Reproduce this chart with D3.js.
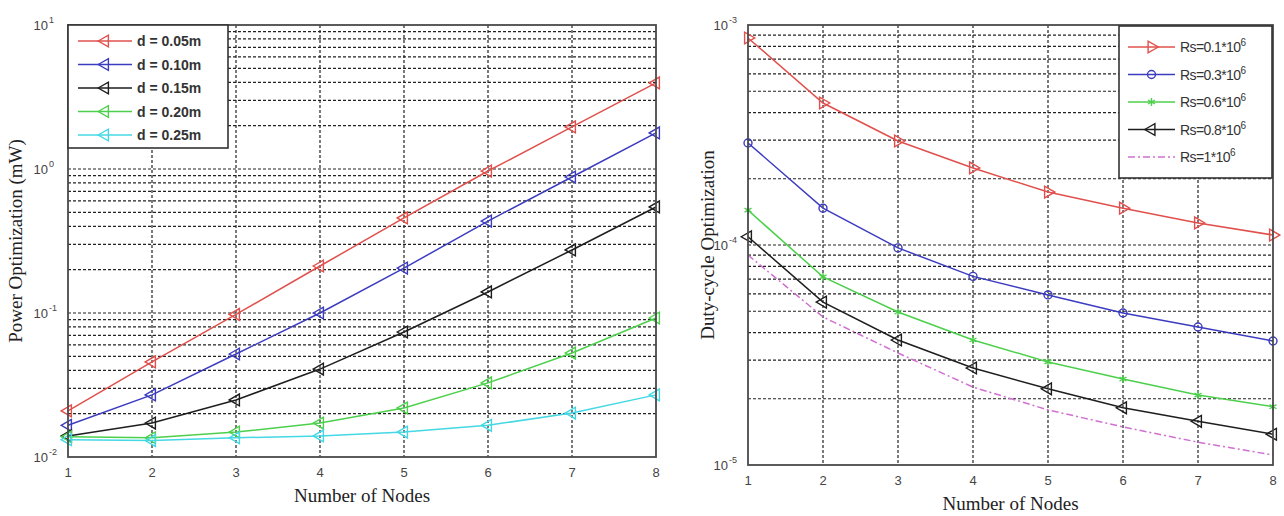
<!DOCTYPE html>
<html>
<head>
<meta charset="utf-8">
<script src="https://cdn.jsdelivr.net/npm/d3@7/dist/d3.min.js"></script>
<style>
  body { margin: 0; background: #fff; }
  svg { display: block; }
  .tick-label { font-family: "Liberation Sans", Arial, sans-serif; font-size: 13px; fill: #444; }
  .axis-title { font-family: "Liberation Serif", "Times New Roman", serif; font-size: 19px; fill: #222; }
  .legend-text { font-family: "Liberation Sans", Arial, sans-serif; font-size: 14px; fill: #333; }
</style>
</head>
<body>
<svg id="chart" width="1284" height="516"></svg>
<script>
// ---- data ----
const nodes = [1, 2, 3, 4, 5, 6, 7, 8];

// left panel: power optimization (mW) per sensor spacing d
const powerLabels = ['d = 0.05m', 'd = 0.10m', 'd = 0.15m', 'd = 0.20m', 'd = 0.25m'];
const powerD005 = [0.0209, 0.0457, 0.0977, 0.212, 0.457, 0.968, 1.96, 3.96];
const powerD010 = [0.0166, 0.0270, 0.0519, 0.100, 0.205, 0.435, 0.88, 1.78];
const powerD015 = [0.0140, 0.0172, 0.0249, 0.0408, 0.0738, 0.140, 0.274, 0.545];
const powerD020 = [0.0138, 0.0136, 0.0149, 0.0172, 0.0219, 0.0327, 0.0527, 0.0923];
const powerD025 = [0.0132, 0.0130, 0.0136, 0.0140, 0.0149, 0.0166, 0.0202, 0.0270];

// right panel: duty-cycle optimization per Rs
const dutyLabels = [['Rs=0.1*10', '6'], ['Rs=0.3*10', '6'], ['Rs=0.6*10', '6'], ['Rs=0.8*10', '6'], ['Rs=1*10', '6']];
const dutyRs01 = [8.73e-4, 4.42e-4, 2.97e-4, 2.24e-4, 1.74e-4, 1.47e-4, 1.26e-4, 1.11e-4];
const dutyRs03 = [2.91e-4, 1.47e-4, 9.7e-5, 7.2e-5, 5.93e-5, 4.91e-5, 4.24e-5, 3.66e-5];
const dutyRs06 = [1.44e-4, 7.16e-5, 4.96e-5, 3.7e-5, 2.94e-5, 2.46e-5, 2.08e-5, 1.84e-5];
const dutyRs08 = [1.09e-4, 5.5e-5, 3.7e-5, 2.76e-5, 2.22e-5, 1.82e-5, 1.58e-5, 1.38e-5];
const dutyRs10 = [9.0e-5, 4.71e-5, 3.23e-5, 2.26e-5, 1.78e-5, 1.49e-5, 1.27e-5, 1.11e-5];

const leftExps = [1, 0, -1, -2];
const rightExps = [-3, -4, -5];

// ---- styles ----
const svg = d3.select('#chart');
const triLeft = d3.symbol().type(d3.symbolTriangle).size(60);
const circ = d3.symbol().type(d3.symbolCircle).size(50);
const star = d3.symbol().type(d3.symbolAsterisk).size(45);

const panels = [
  {
    x0: 68, x1: 656, y0: 25, y1: 457, domain: [1e-2, 1e1], exps: leftExps,
    yTitle: 'Power Optimization (mW)', yTitleX: 22,
    series: [
      { values: powerD005, color: '#e0504c', marker: 'tl' },
      { values: powerD010, color: '#3c3cc0', marker: 'tl' },
      { values: powerD015, color: '#1e1e1e', marker: 'tl' },
      { values: powerD020, color: '#4cd04c', marker: 'tl' },
      { values: powerD025, color: '#44d8e4', marker: 'tl' }
    ],
    labels: powerLabels.map(l => [l, null]),
    legend: { x: 68, y: 25, w: 160, h: 123, first: 41, step: 23.5, lx0: 78, lx1: 132, tx: 137, bold: true }
  },
  {
    x0: 748, x1: 1273, y0: 25, y1: 465, domain: [1e-5, 1e-3], exps: rightExps,
    yTitle: 'Duty-cycle Optimization', yTitleX: 714,
    series: [
      { values: dutyRs01, color: '#e0504c', marker: 'tr' },
      { values: dutyRs03, color: '#3c3cc0', marker: 'o' },
      { values: dutyRs06, color: '#4cd04c', marker: '*' },
      { values: dutyRs08, color: '#1e1e1e', marker: 'tl' },
      { values: dutyRs10, color: '#d070d0', marker: null, dash: '7,3,2,3' }
    ],
    labels: dutyLabels,
    legend: { x: 1119, y: 26, w: 153, h: 152, first: 47, step: 27.5, lx0: 1128, lx1: 1175, tx: 1180, bold: false }
  }
];

function drawMarker(g, m, x, y, color) {
  if (!m) return;
  let p;
  if (m === 'tl') p = g.append('path').attr('d', triLeft()).attr('transform', `translate(${x},${y}) rotate(-90)`);
  else if (m === 'tr') p = g.append('path').attr('d', triLeft()).attr('transform', `translate(${x},${y}) rotate(90)`);
  else if (m === 'o') p = g.append('path').attr('d', circ()).attr('transform', `translate(${x},${y})`);
  else p = g.append('path').attr('d', star()).attr('transform', `translate(${x},${y})`);
  p.attr('fill', 'none').attr('stroke', color).attr('stroke-width', 1.4);
}

panels.forEach(pn => {
  const x = d3.scaleLinear().domain([1, 8]).range([pn.x0, pn.x1]);
  const y = d3.scaleLog().domain(pn.domain).range([pn.y1, pn.y0]);
  const g = svg.append('g');

  // grid
  const gridY = y.ticks().filter(v => v > pn.domain[0] * 1.0001 && v < pn.domain[1] * 0.9999);
  g.selectAll('.hg').data(gridY).enter().append('line')
    .attr('x1', pn.x0).attr('x2', pn.x1)
    .attr('y1', d => y(d)).attr('y2', d => y(d))
    .attr('stroke', '#222').attr('stroke-width', 1.2).attr('stroke-dasharray', '3,2');
  g.selectAll('.vg').data(nodes.slice(1, -1)).enter().append('line')
    .attr('x1', d => x(d)).attr('x2', d => x(d))
    .attr('y1', pn.y0).attr('y2', pn.y1)
    .attr('stroke', '#222').attr('stroke-width', 1.2).attr('stroke-dasharray', '3,2');

  // series
  pn.series.forEach(s => {
    const line = d3.line().x((d, i) => x(nodes[i])).y(d => y(d));
    g.append('path').datum(s.values).attr('d', line)
      .attr('fill', 'none').attr('stroke', s.color).attr('stroke-width', 1.5)
      .attr('stroke-dasharray', s.dash || null);
    s.values.forEach((v, i) => drawMarker(g, s.marker, x(nodes[i]), y(v), s.color));
  });

  // frame
  g.append('rect').attr('x', pn.x0).attr('y', pn.y0)
    .attr('width', pn.x1 - pn.x0).attr('height', pn.y1 - pn.y0)
    .attr('fill', 'none').attr('stroke', '#4a4a4a').attr('stroke-width', 1.8);

  // x tick labels
  g.selectAll('.xt').data(nodes).enter().append('text')
    .attr('class', 'tick-label').attr('text-anchor', 'middle')
    .attr('x', d => x(d)).attr('y', pn.y1 + 20).text(d => d);

  // y decade labels
  pn.exps.forEach(e => {
    g.append('text').attr('class', 'tick-label')
      .attr('x', pn.x0 - 20).attr('y', y(Math.pow(10, e)) + 5).attr('text-anchor', 'end')
      .text('10');
    g.append('text').attr('class', 'tick-label').style('font-size', '9px')
      .attr('x', pn.x0 - 19).attr('y', y(Math.pow(10, e)) - 2).text(e);
  });

  // axis titles
  g.append('text').attr('class', 'axis-title').attr('text-anchor', 'middle')
    .attr('x', (pn.x0 + pn.x1) / 2).attr('y', pn.y1 + 45).text('Number of Nodes');
  g.append('text').attr('class', 'axis-title').attr('text-anchor', 'middle')
    .attr('transform', `translate(${pn.yTitleX},${(pn.y0 + pn.y1) / 2}) rotate(-90)`)
    .text(pn.yTitle);

  // legend
  const L = pn.legend;
  const lg = svg.append('g');
  lg.append('rect').attr('x', L.x).attr('y', L.y).attr('width', L.w).attr('height', L.h)
    .attr('fill', '#fff').attr('stroke', '#333').attr('stroke-width', 1.6);
  pn.series.forEach((s, i) => {
    const yy = L.first + i * L.step;
    lg.append('line').attr('x1', L.lx0).attr('x2', L.lx1).attr('y1', yy).attr('y2', yy)
      .attr('stroke', s.color).attr('stroke-width', 1.5).attr('stroke-dasharray', s.dash || null);
    drawMarker(lg, s.marker, (L.lx0 + L.lx1) / 2, yy, s.color);
    const t = lg.append('text').attr('class', 'legend-text').attr('x', L.tx).attr('y', yy + 5)
      .style('font-weight', L.bold ? 'bold' : 'normal')
      .style('letter-spacing', L.bold ? '0px' : '-0.6px');
    t.append('tspan').text(pn.labels[i][0]);
    if (pn.labels[i][1]) t.append('tspan').attr('dy', -6).style('font-size', '10px').text(pn.labels[i][1]);
  });
});
</script>
</body>
</html>
